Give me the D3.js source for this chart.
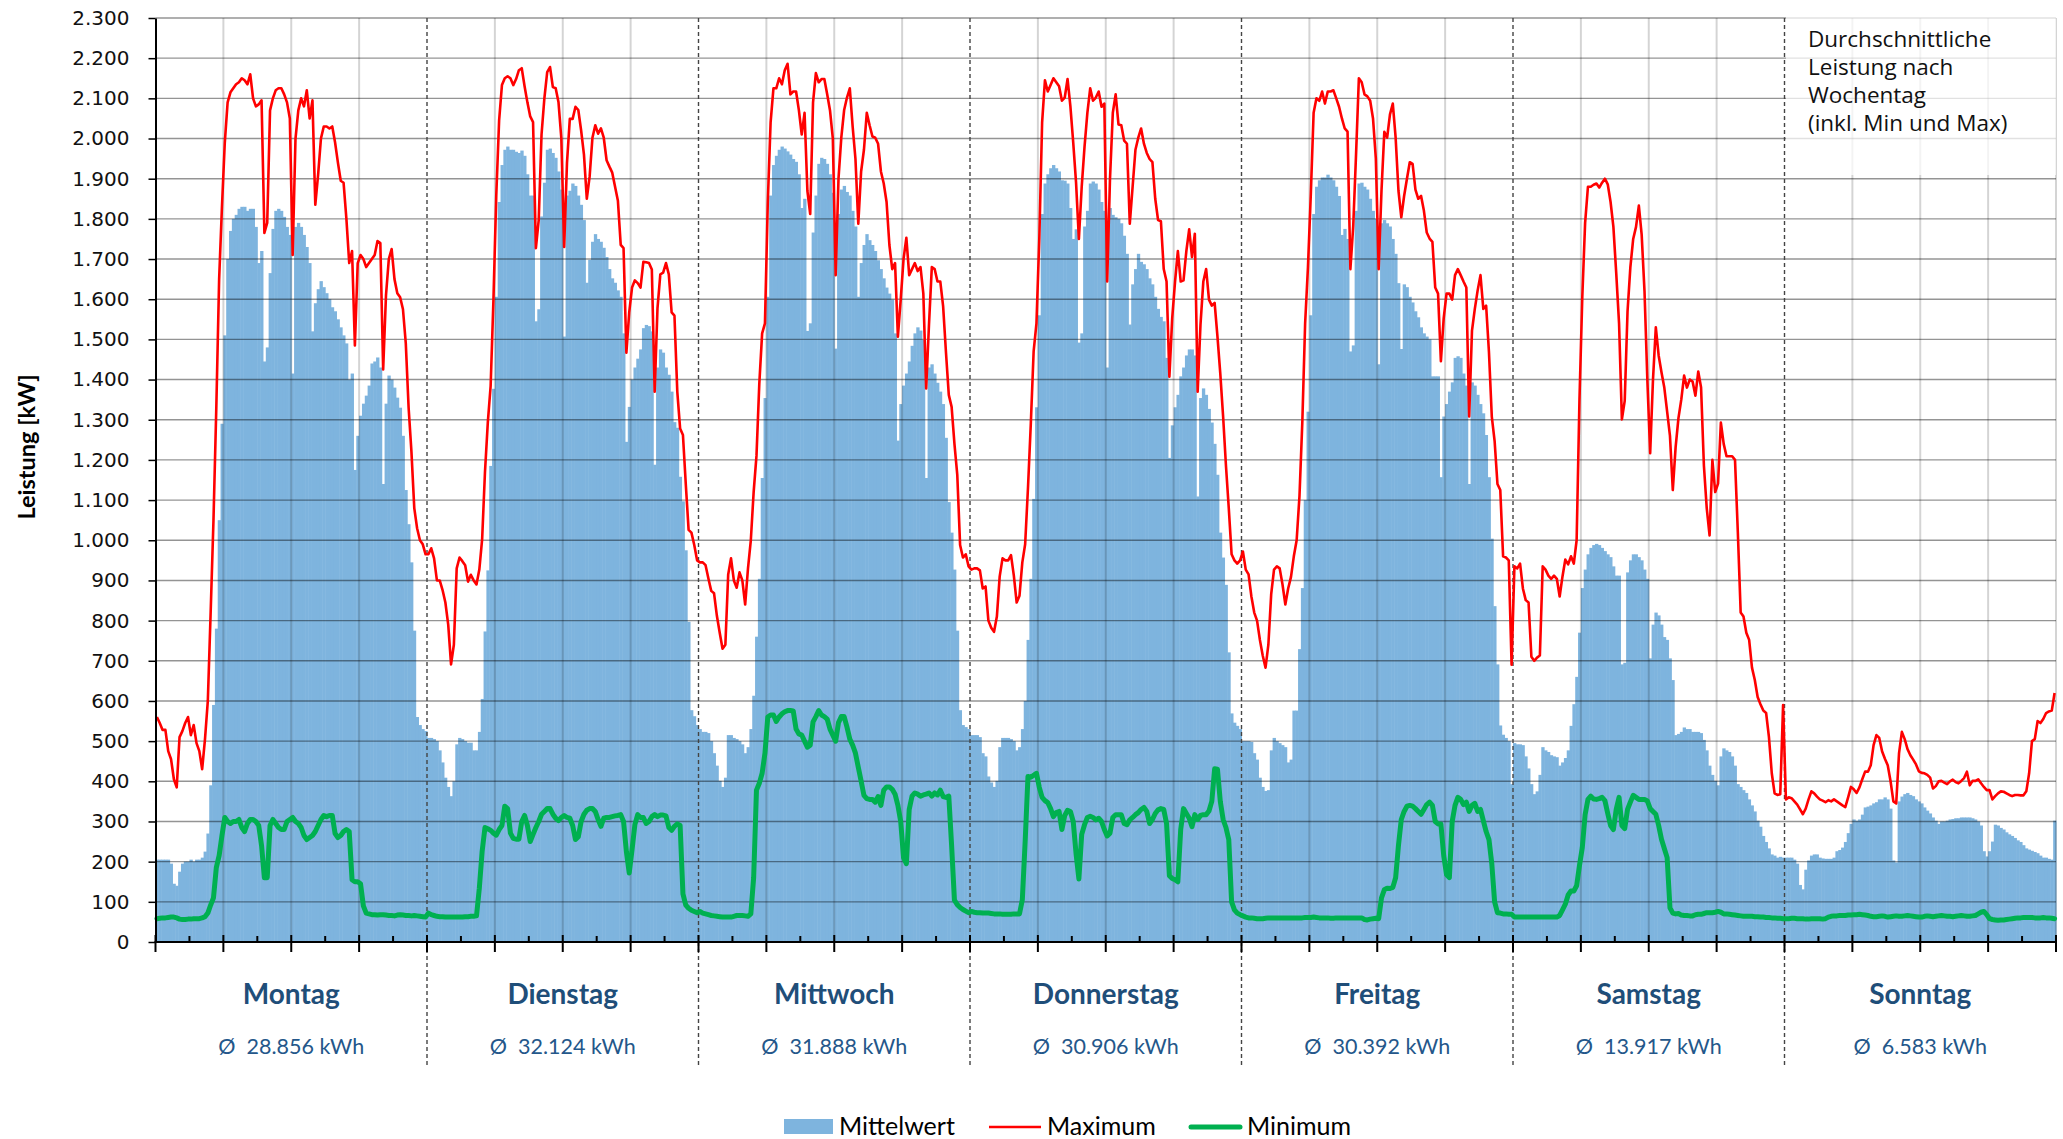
<!DOCTYPE html>
<html><head><meta charset="utf-8">
<script src="https://cdn.jsdelivr.net/npm/d3@7"></script>
<style>html,body{margin:0;padding:0;background:#fff;} svg{display:block;}</style>
</head><body>
<svg id="chart" width="2063" height="1139"></svg>
<script>
// ---------------- DATA ----------------
const days = ["Montag","Dienstag","Mittwoch","Donnerstag","Freitag","Samstag","Sonntag"];
const dayEnergy = ["28.856","32.124","31.888","30.906","30.392","13.917","6.583"];
const yTicks = [0,100,200,300,400,500,600,700,800,900,1000,1100,1200,1300,1400,1500,1600,1700,1800,1900,2000,2100,2200,2300];
const seriesNames = ["Mittelwert","Maximum","Minimum"];
const annotation = ["Durchschnittliche","Leistung nach","Wochentag","(inkl. Min und Max)"];

// 15-minute values (96 per day), kW
const meanMo = [205,205,205,205,205,195,145,140,175,195,200,200,
205,200,205,205,210,225,270,390,590,780,1050,1290,
1510,1700,1770,1800,1810,1825,1830,1830,1820,1825,1825,1780,
1690,1720,1445,1480,1665,1775,1820,1825,1820,1805,1780,1760,
1415,1780,1790,1780,1760,1730,1690,1520,1590,1625,1645,1630,
1615,1600,1580,1570,1550,1530,1510,1490,1400,1415,1175,1260,
1310,1340,1360,1385,1440,1445,1455,1430,1140,1340,1410,1400,
1380,1355,1330,1260,1125,1040,945,775,560,540,530,525];
const maxMo = [560,545,528,528,475,455,405,385,510,525,545,560,
515,540,495,475,430,505,600,820,1050,1330,1650,1830,
1990,2090,2115,2125,2135,2140,2150,2145,2135,2160,2100,2080,
2085,2095,1765,1790,2070,2100,2120,2125,2125,2110,2090,2050,
1710,2000,2070,2100,2080,2120,2050,2095,1835,1910,2000,2030,
2030,2025,2030,1990,1940,1895,1890,1800,1690,1720,1485,1690,
1710,1700,1680,1690,1700,1710,1745,1740,1425,1610,1700,1725,
1650,1615,1605,1575,1490,1330,1220,1080,1030,1000,990,965];
const minMo = [58,59,60,60,61,62,62,60,57,56,56,57,
57,58,58,58,60,63,72,92,110,185,215,265,
310,300,295,300,300,305,285,275,295,305,305,300,
290,240,160,160,290,305,295,285,280,280,300,305,
310,300,295,285,265,255,260,265,275,290,305,315,
312,315,315,270,260,265,275,280,275,155,150,150,
145,90,72,70,68,68,67,68,68,67,66,66,
65,67,68,67,66,66,65,66,65,64,63,62];

const meanDi = [508,508,505,500,477,447,409,386,363,400,492,508,
505,500,496,496,477,477,523,605,773,925,1185,1377,
1606,1842,1934,1972,1980,1972,1972,1967,1964,1970,1957,1911,
1858,1858,1545,1575,1806,1890,1972,1975,1964,1952,1918,1873,
1507,1858,1870,1888,1882,1858,1835,1797,1641,1698,1743,1762,
1750,1743,1728,1705,1675,1652,1641,1622,1606,1515,1245,1332,
1400,1430,1452,1475,1528,1536,1533,1520,1188,1430,1475,1467,
1430,1412,1370,1294,1280,1158,1097,975,797,577,562,540];
const maxDi = [965,980,955,900,900,876,845,790,691,740,930,957,
948,938,897,914,900,890,927,1003,1170,1293,1384,1600,
1860,2045,2133,2150,2155,2150,2133,2148,2170,2175,2130,2090,
2055,2041,1727,1797,2010,2100,2165,2178,2128,2125,2090,2000,
1730,1940,2049,2049,2079,2071,2020,1960,1850,1905,2002,2033,
2012,2025,2002,1946,1930,1915,1880,1845,1735,1727,1467,1567,
1629,1647,1640,1629,1693,1692,1690,1674,1370,1578,1662,1666,
1690,1662,1567,1559,1370,1278,1262,1140,1026,1019,988,950];
const minDi = [72,68,66,64,63,63,62,62,62,62,62,62,
62,63,63,64,64,65,134,226,285,282,278,271,
266,280,290,338,332,271,258,256,256,300,315,290,
250,268,285,300,318,325,332,332,318,308,302,310,
315,310,308,290,255,262,300,318,328,332,332,325,
305,288,308,310,310,312,314,315,317,300,225,172,
230,292,317,310,310,295,300,312,317,312,316,316,
314,285,278,288,294,290,120,92,84,79,76,73];

const meanMi = [530,523,523,520,500,470,439,401,386,409,515,515,
508,505,500,492,470,485,530,613,760,904,1155,1354,
1606,1858,1934,1957,1972,1980,1975,1968,1960,1949,1942,1911,
1827,1850,1521,1540,1766,1858,1937,1952,1949,1937,1911,1865,
1477,1812,1873,1882,1867,1858,1820,1781,1606,1690,1735,1762,
1747,1735,1720,1697,1675,1652,1629,1614,1599,1515,1248,1339,
1385,1415,1445,1484,1515,1530,1522,1499,1155,1430,1438,1415,
1392,1370,1339,1255,1095,1019,927,775,577,540,535,530];
const maxMi = [945,945,938,905,874,868,812,770,730,740,915,955,
900,882,920,900,840,930,1000,1120,1210,1390,1515,1540,
1842,2041,2125,2125,2150,2135,2170,2186,2110,2117,2117,2070,
2010,2064,1870,1812,2090,2163,2140,2148,2148,2110,2070,2000,
1660,1900,2003,2071,2102,2125,2030,1949,1788,1918,1972,2064,
2033,2005,2002,1987,1918,1888,1842,1735,1675,1690,1507,1599,
1700,1753,1660,1675,1690,1670,1680,1614,1378,1537,1680,1675,
1644,1644,1582,1468,1362,1332,1240,1163,988,957,965,935];
const minMi = [76,72,70,68,66,65,64,63,62,62,62,62,
64,66,66,66,65,64,70,160,378,395,420,470,
560,565,565,549,560,568,573,576,576,575,530,518,
515,500,485,490,548,561,576,565,561,555,530,515,
500,546,561,561,535,505,490,470,435,401,365,357,
355,355,348,362,340,378,386,386,380,368,340,300,
210,195,330,363,371,368,363,366,368,371,363,371,
366,378,362,360,363,240,104,93,86,81,77,73];

const meanDo = [515,515,515,510,470,462,412,397,386,401,485,508,
508,508,505,500,477,485,530,600,752,904,1103,1331,
1560,1812,1888,1911,1926,1934,1926,1918,1896,1895,1888,1827,
1750,1774,1492,1515,1781,1820,1888,1893,1888,1873,1842,1820,
1430,1827,1810,1804,1800,1789,1758,1713,1537,1637,1675,1713,
1693,1687,1675,1652,1637,1606,1576,1556,1545,1454,1205,1286,
1331,1362,1408,1430,1460,1475,1475,1460,1109,1354,1378,1362,
1327,1293,1240,1163,1019,957,889,721,569,546,538,530];
const maxDo = [927,930,930,925,880,885,800,782,772,810,910,955,
950,950,963,912,845,862,945,990,1130,1290,1470,1540,
1750,2040,2145,2117,2133,2150,2140,2130,2094,2102,2148,2080,
1990,1890,1750,1880,1980,2064,2125,2094,2102,2117,2079,2087,
1644,1900,2064,2110,2035,2033,1995,1987,1788,1880,1972,2002,
2025,1987,1964,1949,1941,1850,1797,1794,1675,1644,1407,1553,
1644,1720,1644,1647,1720,1774,1705,1763,1370,1537,1644,1675,
1599,1584,1591,1507,1415,1308,1186,1080,965,950,942,950];
const minDo = [76,74,73,73,72,72,72,71,70,70,70,69,
69,69,69,70,70,70,105,250,412,410,415,420,
385,360,352,347,332,312,322,325,280,315,328,325,
300,220,157,268,292,310,313,310,304,308,300,280,
264,271,310,317,317,317,295,292,304,310,317,322,
330,335,325,295,305,320,329,332,330,295,165,158,
155,150,280,332,320,308,287,317,305,315,317,317,
326,350,431,430,350,305,285,255,100,80,72,68];

const meanFr = [500,500,500,498,470,454,409,386,376,378,477,508,
500,495,490,485,447,454,576,576,729,881,1100,1320,
1560,1812,1880,1896,1903,1903,1910,1903,1896,1880,1857,1760,
1775,1750,1470,1485,1820,1888,1890,1880,1873,1850,1820,1800,
1438,1789,1797,1789,1781,1750,1713,1640,1476,1637,1630,1606,
1592,1570,1555,1530,1515,1507,1500,1408,1408,1408,1157,1308,
1339,1370,1393,1454,1458,1454,1415,1385,1140,1393,1385,1362,
1339,1316,1262,1157,1004,836,691,539,516,508,500,393];
const maxFr = [972,927,915,860,820,800,752,713,683,740,866,927,
935,930,890,840,880,909,960,1000,1110,1293,1540,1680,
1860,2064,2100,2094,2117,2087,2117,2117,2120,2100,2079,2050,
2025,2017,1675,1781,1960,2150,2140,2110,2105,2094,2050,1950,
1675,1870,2017,2002,2060,2087,2002,1870,1804,1857,1900,1941,
1937,1873,1850,1857,1820,1766,1751,1743,1629,1614,1446,1553,
1614,1614,1599,1660,1675,1660,1644,1629,1308,1522,1576,1622,
1660,1576,1584,1468,1308,1247,1140,1125,960,957,950,690];
const minFr = [65,62,60,60,59,58,58,58,59,60,60,60,
60,60,60,60,60,60,60,60,60,60,61,61,
61,62,61,60,60,60,60,59,59,60,60,60,
60,60,60,60,60,60,60,56,55,57,58,59,
58,110,130,134,133,136,160,240,305,325,338,340,
338,332,325,318,330,342,348,340,300,294,294,215,
168,160,300,340,360,355,342,348,325,340,345,325,
330,302,275,255,195,100,73,72,70,70,69,69];

const meanSa = [495,492,492,490,462,432,393,368,375,416,485,477,
473,465,462,460,439,447,458,477,538,592,660,770,
881,927,965,981,988,991,988,981,973,965,958,935,
912,912,691,695,920,950,965,965,958,950,927,904,
706,790,820,813,790,759,752,706,652,515,518,523,
534,530,530,523,523,523,520,503,477,439,416,401,
390,462,482,477,473,462,439,393,386,378,371,355,
340,325,302,287,264,249,233,218,215,210,212,210];
const maxSa = [935,930,942,880,851,845,710,700,708,713,935,927,
912,904,912,904,860,910,952,940,960,942,1000,1350,
1605,1790,1880,1880,1885,1888,1878,1890,1900,1886,1842,1780,
1665,1540,1301,1347,1570,1680,1750,1780,1833,1760,1620,1400,
1217,1400,1530,1460,1418,1380,1320,1260,1125,1232,1304,1350,
1410,1380,1400,1395,1360,1420,1380,1186,1080,1012,1200,1120,
1141,1293,1240,1209,1209,1209,1200,1020,820,810,770,752,
683,652,610,592,576,570,510,420,370,366,368,590];
const minSa = [62,62,62,62,62,62,62,62,62,62,62,62,
62,62,62,62,66,80,94,117,127,127,140,190,
235,317,355,363,356,355,357,360,352,320,290,280,
330,360,290,282,330,348,365,360,355,355,355,351,
332,325,318,290,256,233,210,85,72,70,71,67,
66,66,65,65,68,69,69,71,73,73,73,74,
76,74,70,70,69,68,67,66,65,64,64,64,
64,63,63,62,62,61,61,60,60,59,59,58];

const meanSo = [210,210,210,205,195,142,131,180,203,215,218,218,
210,208,207,207,207,210,226,229,235,249,271,294,
305,302,305,317,335,337,340,345,348,355,355,360,
355,332,203,198,350,362,368,371,366,363,355,350,
345,335,327,320,310,302,294,300,300,302,305,306,
308,308,310,310,310,310,308,305,300,290,226,213,
226,250,292,290,284,280,273,268,264,259,253,249,
241,233,230,227,224,221,215,210,210,207,205,302];
const maxSo = [355,360,358,350,342,330,318,332,355,375,370,362,
355,352,348,353,350,355,350,345,340,336,360,386,
380,371,385,405,424,424,440,490,515,508,475,456,
440,400,350,345,470,523,505,480,465,454,442,425,
421,420,416,409,382,388,400,401,397,393,400,404,
398,395,401,408,424,390,401,401,405,395,386,378,
378,355,363,370,375,374,370,366,363,366,366,365,
365,375,420,500,505,550,545,555,570,574,576,620];
const minSo = [58,58,59,59,58,58,58,57,57,58,58,58,
58,57,58,62,64,65,65,66,66,66,67,67,
68,68,69,68,67,66,64,63,63,64,65,64,
62,63,64,65,64,64,65,66,65,64,63,62,
62,64,65,64,63,64,65,66,65,64,64,63,
64,65,66,65,64,64,65,66,70,74,76,68,
58,56,55,54,55,55,56,57,58,59,60,60,
61,61,61,61,60,60,60,61,60,60,59,58];

// ---------------- CHART ----------------
const meanAll = [meanMo,meanDi,meanMi,meanDo,meanFr,meanSa,meanSo].flat();
const maxAll  = [maxMo,maxDi,maxMi,maxDo,maxFr,maxSa,maxSo].flat();
const minAll  = [minMo,minDi,minMi,minDo,minFr,minSa,minSo].flat();

const W = 2063, H = 1139;
const PER_DAY = 96, N = PER_DAY * days.length;
const L = 155.5, R = 2056, T = 18, B = 942;
const BAR = "#7EB4DE", RED = "#FF0000", GREEN = "#00B050", NAVY = "#1F4E79";

const x = d3.scaleLinear().domain([0, N]).range([L, R]);
const y = d3.scaleLinear().domain([0, 2300]).range([B, T]);
const de = d3.formatLocale({decimal: ",", thousands: ".", grouping: [3], currency: ["", "€"]});
const fmt = de.format(",d");

const svg = d3.select("#chart");
svg.append("rect").attr("width", W).attr("height", H).attr("fill", "#fff");

// bars
svg.append("g").selectAll("rect").data(meanAll).join("rect")
  .attr("x", (d, i) => x(i))
  .attr("width", (d, i) => x(i + 1) - x(i) + 0.5)
  .attr("y", d => y(d))
  .attr("height", d => y(0) - y(d))
  .attr("fill", BAR);

// horizontal grid
svg.append("g").selectAll("line").data(yTicks.filter(v => v > 0)).join("line")
  .attr("x1", L).attr("x2", R)
  .attr("y1", d => y(d)).attr("y2", d => y(d))
  .attr("stroke", "#000").attr("stroke-opacity", 0.42).attr("stroke-width", 1.4);

// vertical grid every 6 h
const sixH = d3.range(24, N + 1, 24).filter(i => i % PER_DAY !== 0 || i === N);
svg.append("g").selectAll("line").data(sixH).join("line")
  .attr("x1", d => x(d)).attr("x2", d => x(d))
  .attr("y1", T).attr("y2", B)
  .attr("stroke", "#000").attr("stroke-opacity", 0.17).attr("stroke-width", 2);

// annotation backdrop
svg.append("rect").attr("x", x(6 * PER_DAY) + 1.5).attr("y", 14)
  .attr("width", R - x(6 * PER_DAY) - 1.5).attr("height", 161)
  .attr("fill", "#fff").attr("fill-opacity", 0.72);

// day separators
const sep = d3.range(1, days.length).map(d => d * PER_DAY);
svg.append("g").selectAll("line").data(sep).join("line")
  .attr("x1", d => x(d)).attr("x2", d => x(d))
  .attr("y1", T).attr("y2", 1068)
  .attr("stroke", "#444").attr("stroke-width", 1.4).attr("stroke-dasharray", "4,3");

// lines
const line = d3.line().x((d, i) => x(i + 0.5)).y(d => y(d));
svg.append("path").datum(minAll).attr("d", line)
  .attr("fill", "none").attr("stroke", GREEN).attr("stroke-width", 5)
  .attr("stroke-linejoin", "round").attr("stroke-linecap", "round");
svg.append("path").datum(maxAll).attr("d", line)
  .attr("fill", "none").attr("stroke", RED).attr("stroke-width", 2.6)
  .attr("stroke-linejoin", "round");

// y axis
const ya = svg.append("g").attr("transform", `translate(${L},0)`)
  .call(d3.axisLeft(y).tickValues(yTicks).tickFormat(fmt).tickSize(7).tickSizeOuter(0).tickPadding(19));
ya.select(".domain").attr("stroke", "#000").attr("stroke-width", 2);
ya.selectAll(".tick line").attr("stroke", "#000").attr("stroke-width", 1.5);
ya.selectAll(".tick text").attr("font-family", "DejaVu Sans").attr("font-size", 20).attr("fill", "#111");

// x axis
svg.append("line").attr("x1", L - 1).attr("x2", R + 1).attr("y1", B).attr("y2", B)
  .attr("stroke", "#000").attr("stroke-width", 2);
svg.append("g").selectAll("line").data(d3.range(0, N + 1, 12)).join("line")
  .attr("x1", d => x(d)).attr("x2", d => x(d))
  .attr("y1", d => d % 24 === 0 ? B - 7 : B - 6)
  .attr("y2", d => d % 24 === 0 ? B + 10 : B)
  .attr("stroke", "#000").attr("stroke-width", 2);

// y title
svg.append("text").attr("transform", "translate(35,447) rotate(-90)")
  .attr("text-anchor", "middle").attr("font-family", "Lato").attr("font-weight", 700)
  .attr("font-size", 23.5).attr("fill", "#000").text("Leistung [kW]");

// day labels
const dl = svg.append("g");
dl.selectAll("text.day").data(days).join("text").attr("class", "day")
  .attr("x", (d, i) => x(i * PER_DAY + PER_DAY / 2)).attr("y", 1004)
  .attr("text-anchor", "middle").attr("font-family", "Lato").attr("font-weight", 700)
  .attr("font-size", 28).attr("fill", NAVY).text(d => d);
dl.selectAll("text.en").data(dayEnergy).join("text").attr("class", "en")
  .attr("x", (d, i) => x(i * PER_DAY + PER_DAY / 2)).attr("y", 1054)
  .attr("text-anchor", "middle").attr("font-family", "Lato")
  .attr("font-size", 21.5).attr("fill", "#24578A").style("white-space", "pre")
  .text(d => "Ø  " + d + " kWh");

// annotation
svg.append("g").selectAll("text").data(annotation).join("text")
  .attr("x", 1808).attr("y", (d, i) => 47 + i * 28)
  .attr("font-family", "Open Sans").attr("font-size", 22.5).attr("fill", "#111")
  .text(d => d);

// legend
const lg = svg.append("g").attr("font-family", "Lato").attr("font-size", 25).attr("fill", "#000");
lg.append("rect").attr("x", 784).attr("y", 1119).attr("width", 49).attr("height", 15).attr("fill", BAR);
lg.append("text").attr("x", 839).attr("y", 1135).text(seriesNames[0]);
lg.append("line").attr("x1", 989).attr("x2", 1041).attr("y1", 1127).attr("y2", 1127)
  .attr("stroke", RED).attr("stroke-width", 2.6);
lg.append("text").attr("x", 1047).attr("y", 1135).text(seriesNames[1]);
lg.append("line").attr("x1", 1191).attr("x2", 1240).attr("y1", 1127).attr("y2", 1127)
  .attr("stroke", GREEN).attr("stroke-width", 5).attr("stroke-linecap", "round");
lg.append("text").attr("x", 1247).attr("y", 1135).text(seriesNames[2]);
</script>
</body></html>
